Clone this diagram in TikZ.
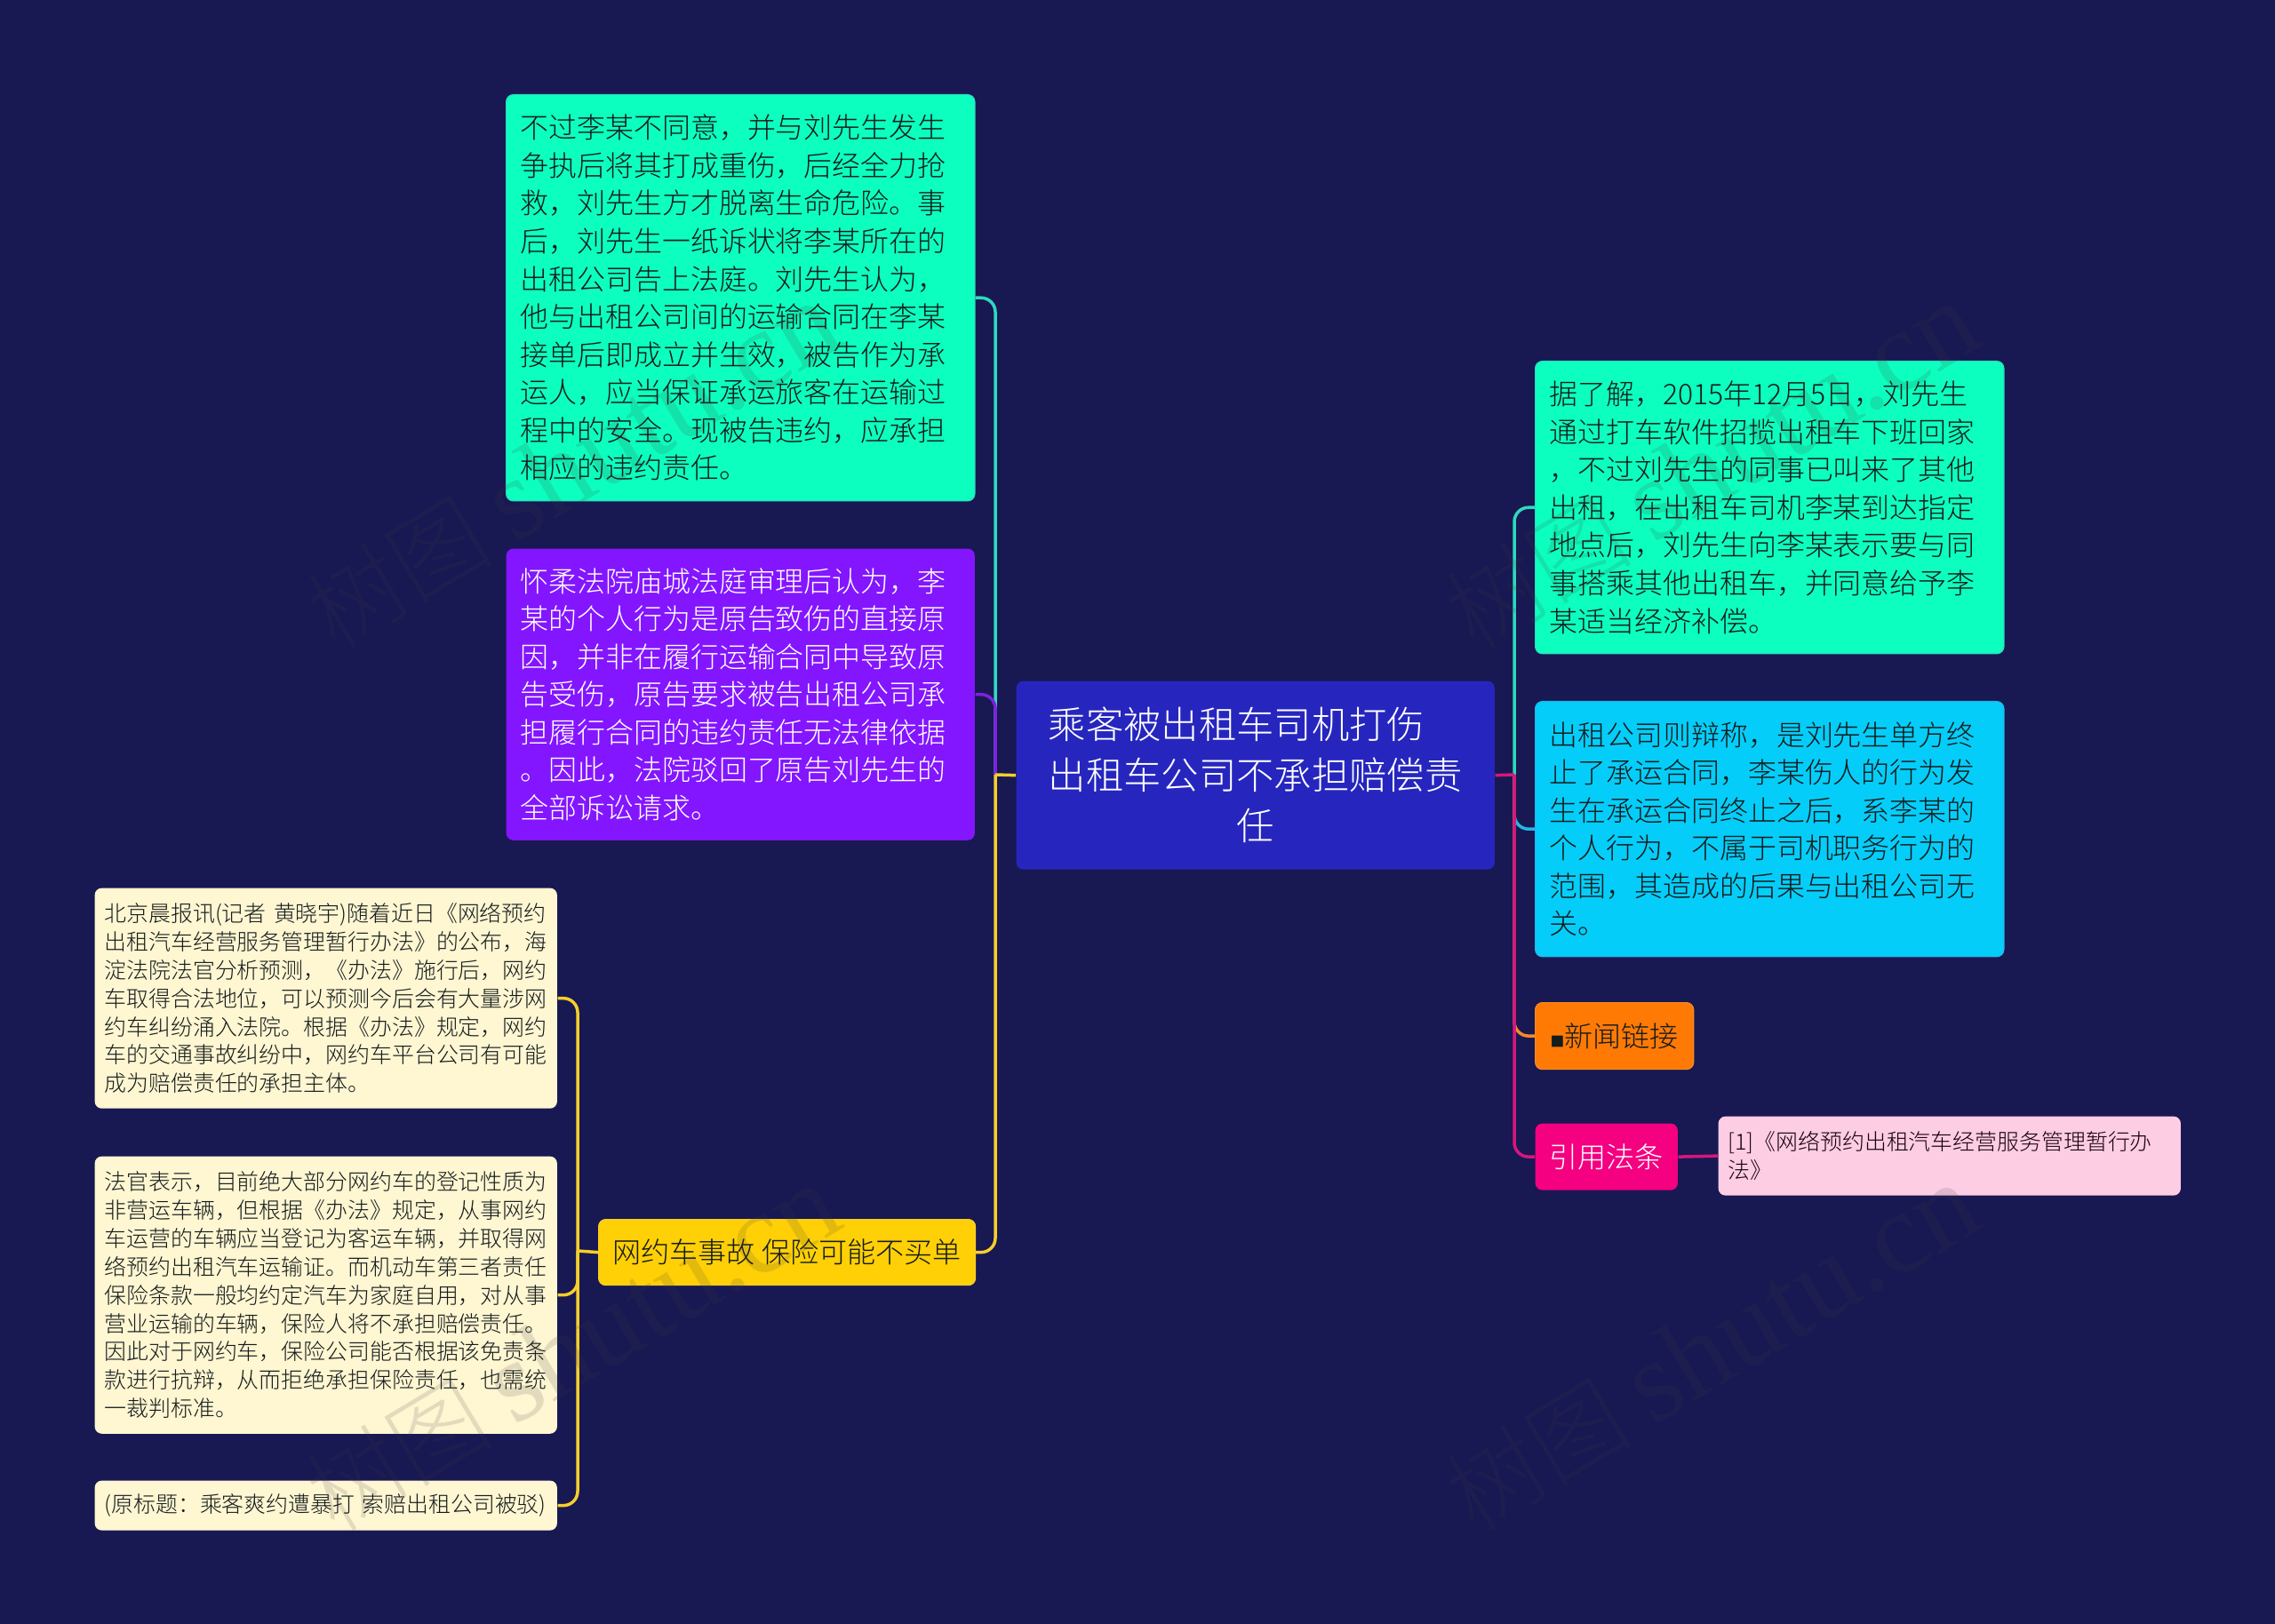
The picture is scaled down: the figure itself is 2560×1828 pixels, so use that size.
\documentclass[tikz,border=0pt]{standalone}
\usepackage{fontspec}
\setmainfont{Noto Sans CJK SC Light}
\newfontfamily\markfont{Liberation Serif}
\usetikzlibrary{positioning}
\definecolor{bgnavy}{HTML}{181852}
\definecolor{rootblue}{HTML}{2626BF}
\definecolor{mintfill}{HTML}{0CFFBE}
\definecolor{mintline}{HTML}{2ED9BF}
\definecolor{violetfill}{HTML}{8316FF}
\definecolor{violetline}{HTML}{7F1FE0}
\definecolor{goldfill}{HTML}{FFD006}
\definecolor{goldline}{HTML}{F5CE2B}
\definecolor{creamfill}{HTML}{FFF6D2}
\definecolor{skyfill}{HTML}{05CDF9}
\definecolor{skyline}{HTML}{25B7E5}
\definecolor{orangefill}{HTML}{FF7A05}
\definecolor{orangeline}{HTML}{F58A28}
\definecolor{rosefill}{HTML}{F40080}
\definecolor{roseline}{HTML}{D5177F}
\definecolor{palerose}{HTML}{FDCDE4}
\definecolor{inkgrey}{HTML}{141C1C}
\definecolor{markgrey}{HTML}{404040}
\tikzset{
  box/.style={rounded corners=0.08cm, inner xsep=0.16cm, inner ysep=0pt, align=left, anchor=north west, text=inkgrey, line width=0.012cm},
  bigbox/.style={box, text width=4.95cm, font=\fontsize{9.08}{12.1}\selectfont},
  smallbox/.style={box, text width=4.98cm, inner xsep=0.11cm, fill=creamfill, font=\fontsize{7.08}{9.05}\selectfont},
  tagbox/.style={box, font=\fontsize{9.12}{12.1}\selectfont},
  link/.style={line width=0.035cm, rounded corners=0.16cm},
  watermark/.style={font=\fontsize{30}{36}\selectfont, rotate=31, text=markgrey, opacity=0.15}
}
\newcommand{\marktext}{树图 {\markfont\fontsize{37}{40}\selectfont shutu.cn}}
\begin{document}
\begin{tikzpicture}[x=0.01cm, y=-0.01cm]
\useasboundingbox (0,0) rectangle (2560,1828);
\fill[bgnavy] (0,0) rectangle (2560,1828);
\coordinate (lefthub) at (1120,872);
\coordinate (righthub) at (1704,872);
\coordinate (accidenthub) at (650,1408);
\node[box, fill=rootblue, text=white, minimum width=5.38cm, minimum height=2.12cm, align=center, text width=5.06cm, font=\fontsize{12.04}{16.2}\selectfont] (root) at (1143,766)
  {乘客被出租车司机打伤　\\出租车公司不承担赔偿责\\任};
\node[bigbox, fill=mintfill, draw=mintline, minimum height=4.57cm] (dispute) at (569,106)
  {不过李某不同意，并与刘先生发生\\
  争执后将其打成重伤，后经全力抢\\
  救，刘先生方才脱离生命危险。事\\
  后，刘先生一纸诉状将李某所在的\\
  出租公司告上法庭。刘先生认为，\\
  他与出租公司间的运输合同在李某\\
  接单后即成立并生效，被告作为承\\
  运人，应当保证承运旅客在运输过\\
  程中的安全。现被告违约，应承担\\
  相应的违约责任。};
\node[bigbox, fill=violetfill, text=white, minimum height=3.28cm] (verdict) at (569,617)
  {怀柔法院庙城法庭审理后认为，李\\
  某的个人行为是原告致伤的直接原\\
  因，并非在履行运输合同中导致原\\
  告受伤，原告要求被告出租公司承\\
  担履行合同的违约责任无法律依据\\
  。因此，法院驳回了原告刘先生的\\
  全部诉讼请求。};
\node[tagbox, fill=goldfill, draw=goldline, minimum width=4.23cm, minimum height=0.74cm] (accident) at (673,1372)
  {网约车事故 保险可能不买单};
\node[smallbox, minimum height=2.48cm] (forecast) at (106,999)
  {北京晨报讯(记者 黄晓宇)随着近日《网络预约\\
  出租汽车经营服务管理暂行办法》的公布，海\\
  淀法院法官分析预测，《办法》施行后，网约\\
  车取得合法地位，可以预测今后会有大量涉网\\
  约车纠纷涌入法院。根据《办法》规定，网约\\
  车的交通事故纠纷中，网约车平台公司有可能\\
  成为赔偿责任的承担主体。};
\node[smallbox, minimum height=3.12cm] (judge) at (106,1301)
  {法官表示，目前绝大部分网约车的登记性质为\\
  非营运车辆，但根据《办法》规定，从事网约\\
  车运营的车辆应当登记为客运车辆，并取得网\\
  络预约出租汽车运输证。而机动车第三者责任\\
  保险条款一般均约定汽车为家庭自用，对从事\\
  营业运输的车辆，保险人将不承担赔偿责任。\\
  因此对于网约车，保险公司能否根据该免责条\\
  款进行抗辩，从而拒绝承担保险责任，也需统\\
  一裁判标准。};
\node[smallbox, minimum height=0.56cm] (oldtitle) at (106,1666)
  {(原标题：乘客爽约遭暴打 索赔出租公司被驳)};
\node[bigbox, fill=mintfill, draw=mintline, minimum height=3.29cm] (report) at (1727,406)
  {据了解，2015年12月5日，刘先生\\
  通过打车软件招揽出租车下班回家\\
  ，不过刘先生的同事已叫来了其他\\
  出租，在出租车司机李某到达指定\\
  地点后，刘先生向李某表示要与同\\
  事搭乘其他出租车，并同意给予李\\
  某适当经济补偿。};
\node[bigbox, fill=skyfill, draw=skyline, minimum height=2.87cm] (defence) at (1727,789)
  {出租公司则辩称，是刘先生单方终\\
  止了承运合同，李某伤人的行为发\\
  生在承运合同终止之后，系李某的\\
  个人行为，不属于司机职务行为的\\
  范围，其造成的后果与出租公司无\\
  关。};
\node[tagbox, fill=orangefill, draw=orangeline, minimum width=1.78cm, minimum height=0.75cm] (newslink) at (1727,1128)
  {{\fontsize{4.5}{4.5}\selectfont ■}新闻链接};
\node[tagbox, fill=rosefill, text=white, minimum width=1.59cm, minimum height=0.75cm] (lawref) at (1727,1264)
  {引用法条};
\node[box, fill=palerose, text=black!90!rosefill, text width=4.98cm, inner xsep=0.11cm, minimum height=0.89cm, font=\fontsize{7.08}{9.05}\selectfont] (lawitem) at (1933,1256)
  {[1]《网络预约出租汽车经营服务管理暂行办\\法》};
\draw[link, mintline] (dispute.east) -| (lefthub);
\draw[link, violetline] (verdict.east) -| (lefthub);
\draw[link, goldline] (accident.east) -| (lefthub);
\draw[link, goldline] (root.west) -- (lefthub);
\draw[link, goldline] (forecast.east) -| (accidenthub);
\draw[link, goldline] (judge.east) -| (accidenthub);
\draw[link, goldline] (oldtitle.east) -| (accidenthub);
\draw[link, goldline] (accident.west) -- (accidenthub);
\draw[link, mintline] (report.west) -| (righthub);
\draw[link, skyline] (defence.west) -| (righthub);
\draw[link, orangeline] (newslink.west) -| (righthub);
\draw[link, roseline] (lawref.west) -| (righthub);
\draw[link, roseline] (root.east) -- (righthub);
\draw[link, roseline] (lawref.east) -- (lawitem.west);
\node[watermark] (markA) at (644,525) {\marktext};
\node[watermark] (markB) at (1926,525) {\marktext};
\node[watermark] (markC) at (644,1518) {\marktext};
\node[watermark] (markD) at (1926,1518) {\marktext};
\end{tikzpicture}
\end{document}
